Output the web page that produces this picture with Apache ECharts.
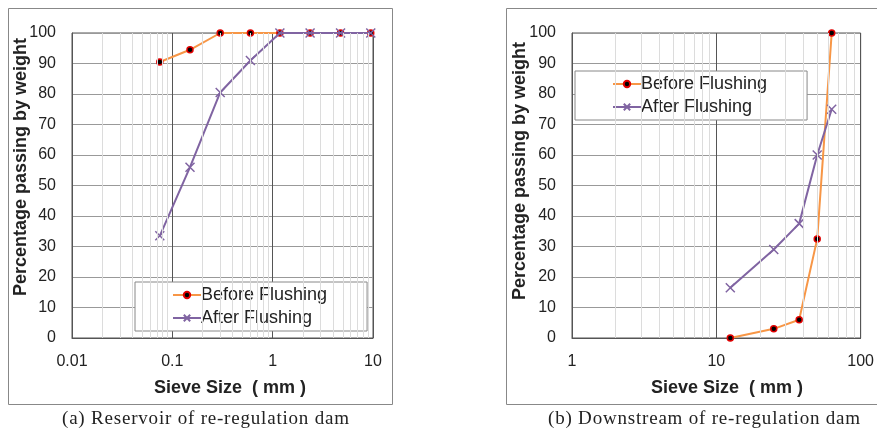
<!DOCTYPE html>
<html>
<head>
<meta charset="utf-8">
<script src="https://cdn.jsdelivr.net/npm/echarts@6/dist/echarts.min.js"></script>
<style>
  body { margin: 0; background: #fff; }
  #wrap { position: relative; width: 877px; height: 432px; overflow: hidden; }
  #chart { width: 877px; height: 432px; }
  .cap { position: absolute; top: 407px; font-family: "Liberation Serif", "DejaVu Serif", serif;
         font-size: 19px; letter-spacing: 0.8px; color: #222; white-space: nowrap; }
</style>
</head>
<body>
<div id="wrap">
  <div id="chart"></div>
  <div class="cap" style="left:62px">(a) Reservoir of re-regulation dam</div>
  <div class="cap" style="left:548px">(b) Downstream of re-regulation dam</div>
</div>
<script>
// (a) reservoir
const sieveA = [0.075, 0.15, 0.3, 0.6, 1.18, 2.36, 4.75, 9.5];
const beforeA = [90.5, 94.5, 100, 100, 100, 100, 100, 100];
const afterA = [33.5, 56, 80.5, 91, 100, 100, 100, 100];
// (b) downstream
const sieveB = [12.5, 25, 37.5, 50, 63];
const beforeB = [0, 3, 6, 32.5, 100];
const afterB = [16.5, 29, 37.5, 60, 75];

const yTicks = [0, 100, 10];

const orange = '#F79646';
const purple = '#8064A2';

const chart = echarts.init(document.getElementById('chart'));

function pairs(xs, ys) {
    return xs.map((x, i) => [x, ys[i]]);
}

// light grid lines at 2..9 of every decade
function minorLines(lo, hi) {
    const out = [];
    for (let d = lo; d < hi; d *= 10) {
        for (let k = 2; k <= 9; k++) out.push({ xAxis: +(d * k).toPrecision(3) });
    }
    return out;
}

const crossSymbol = 'path://M0,0L10,10M10,0L0,10';

function xAxis(idx, lo, hi) {
    return {
        type: 'log', logBase: 10, gridIndex: idx, min: lo, max: hi,
        axisLine: { show: true, lineStyle: { color: '#555' } },
        axisTick: { show: false },
        axisLabel: { fontSize: 16, color: '#222', margin: 16, fontFamily: 'Liberation Sans',
            formatter: v => String(v) },
        splitLine: { show: true, lineStyle: { color: '#555', width: 1 } }
    };
}

function yAxis(idx) {
    return {
        type: 'value', gridIndex: idx, min: yTicks[0], max: yTicks[1], interval: yTicks[2],
        axisLine: { show: true, lineStyle: { color: '#555' } },
        axisTick: { show: false },
        axisLabel: { fontSize: 16, color: '#222', margin: 16, fontFamily: 'Liberation Sans' },
        splitLine: { show: true, lineStyle: { color: '#999', width: 1 } }
    };
}

function gridSeries(idx, lo, hi) {
    return {
        type: 'line', xAxisIndex: idx, yAxisIndex: idx, data: [], z: 1, silent: true,
        markLine: {
            silent: true, symbol: 'none', label: { show: false },
            lineStyle: { color: '#dcdcdc', type: 'solid', width: 1 },
            data: minorLines(lo, hi)
        }
    };
}

function beforeSeries(idx, xs, ys) {
    return {
        name: 'Before Flushing', type: 'line', xAxisIndex: idx, yAxisIndex: idx,
        data: pairs(xs, ys), z: 3,
        symbol: 'circle', symbolSize: 6,
        lineStyle: { color: orange, width: 2 },
        itemStyle: { color: '#000', borderColor: '#e00000', borderWidth: 1.5 }
    };
}

function afterSeries(idx, xs, ys) {
    return {
        name: 'After Flushing', type: 'line', xAxisIndex: idx, yAxisIndex: idx,
        data: pairs(xs, ys), z: 4,
        symbol: crossSymbol, symbolSize: 9,
        lineStyle: { color: purple, width: 2 },
        itemStyle: { color: 'none', borderColor: purple, borderWidth: 1.5 }
    };
}

function legend(left, top) {
    return {
        orient: 'vertical', left: left, top: top,
        data: ['Before Flushing', 'After Flushing'],
        padding: [4, 40, 4, 37], itemGap: 5, itemWidth: 28, itemHeight: 8,
        backgroundColor: '#fff', borderColor: '#888', borderWidth: 1,
        textStyle: { fontSize: 18, color: '#222', fontFamily: 'Liberation Sans', padding: [0, 0, 0, -5] }
    };
}

function label(x, y, text, rot) {
    return {
        type: 'text', x: x, y: y, rotation: rot || 0,
        style: { text: text, fontSize: 18, fontWeight: 'bold', fill: '#222',
            fontFamily: 'Liberation Sans', align: 'center', verticalAlign: 'middle' }
    };
}

const option = {
    animation: false,
    backgroundColor: '#fff',
    grid: [
        { left: 72, top: 33, width: 301, height: 305, show: true, borderColor: '#555', backgroundColor: '#fff' },
        { left: 572, top: 33, width: 293, height: 305, show: true, borderColor: '#555', backgroundColor: '#fff' }
    ],
    xAxis: [xAxis(0, 0.01, 10), xAxis(1, 1, 100)],
    yAxis: [yAxis(0), yAxis(1)],
    legend: [legend(135, 282), legend(575, 71)],
    graphic: [
        { type: 'rect', shape: { x: 8.5, y: 8.5, width: 384, height: 396 },
          style: { fill: 'none', stroke: '#888', lineWidth: 1 }, z: -1 },
        { type: 'rect', shape: { x: 506.5, y: 8.5, width: 400, height: 396 },
          style: { fill: 'none', stroke: '#888', lineWidth: 1 }, z: -1 },
        label(21, 167, 'Percentage passing by weight', Math.PI / 2),
        label(520, 171, 'Percentage passing by weight', Math.PI / 2),
        label(230, 388, 'Sieve Size  ( mm )'),
        label(727, 388, 'Sieve Size  ( mm )')
    ],
    series: [
        gridSeries(0, 0.01, 10),
        gridSeries(1, 1, 100),
        beforeSeries(0, sieveA, beforeA),
        afterSeries(0, sieveA, afterA),
        beforeSeries(1, sieveB, beforeB),
        afterSeries(1, sieveB, afterB)
    ]
};

chart.setOption(option);
</script>
</body>
</html>
